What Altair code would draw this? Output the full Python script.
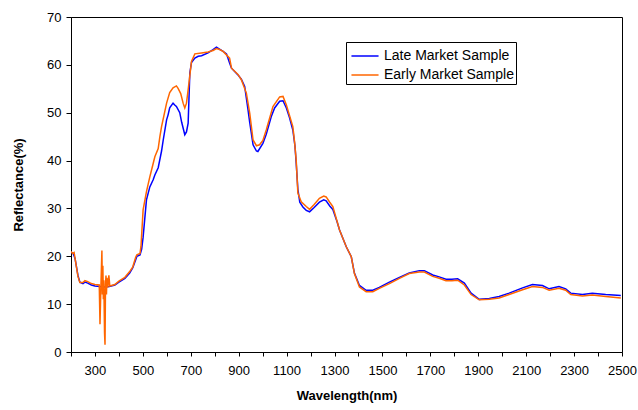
import altair as alt
import pandas as pd

# ---- data ----
late_wl = [200, 210, 217, 229, 237, 250, 258, 270, 285, 300, 320, 340, 360, 383, 400, 425, 445, 458, 470, 475,
           488, 495, 501, 515, 529, 543, 550, 564, 578, 585, 599, 605, 612, 626, 633, 640, 654, 662, 675, 682,
           689, 696, 703, 717, 731, 745, 772, 793, 807, 820, 835, 849, 862, 870, 897, 911, 925, 939, 946, 960,
           974, 980, 1001, 1015, 1036, 1050, 1071, 1085, 1099, 1112, 1126, 1135, 1140, 1147, 1155, 1168, 1182,
           1196, 1215, 1237, 1255, 1265, 1280, 1293, 1310, 1321, 1349, 1370, 1383, 1404, 1432, 1460, 1487, 1529,
           1571, 1612, 1654, 1675, 1710, 1737, 1765, 1790, 1814, 1842, 1870, 1904, 1946, 1987, 2029, 2085, 2126,
           2168, 2196, 2237, 2265, 2286, 2335, 2376, 2432, 2495]
late_val = [20.9, 20.5, 19.5, 16.0, 14.6, 14.3, 14.6, 14.4, 14.0, 13.8, 13.7, 13.6, 13.7, 14.0, 14.6, 15.4, 16.5,
            17.6, 19.3, 20.0, 20.3, 21.5, 24.0, 31.8, 34.5, 36.0, 37.0, 38.5, 42.0, 44.3, 48.5, 49.5, 51.0, 52.0,
            51.6, 51.3, 50.0, 48.0, 45.4, 46.0, 47.8, 58.3, 60.5, 61.4, 61.8, 61.9, 62.5, 63.2, 63.7, 63.3, 62.8,
            62.3, 60.4, 59.3, 57.9, 57.0, 55.5, 50.6, 48.0, 43.3, 42.0, 41.9, 43.6, 45.5, 49.2, 51.0, 52.4, 52.5,
            51.0, 49.0, 46.4, 43.0, 39.5, 34.0, 31.3, 30.3, 29.6, 29.3, 30.2, 31.3, 31.8, 31.6, 30.5, 29.8, 27.3,
            25.5, 22.0, 19.9, 16.5, 13.9, 12.9, 12.9, 13.5, 14.6, 15.6, 16.5, 17.0, 17.0, 16.1, 15.7, 15.2, 15.2,
            15.3, 14.4, 12.3, 11.0, 11.2, 11.6, 12.3, 13.4, 14.1, 13.9, 13.2, 13.7, 13.2, 12.3, 12.0, 12.3, 12.0,
            11.8]

early_wl = [200, 207, 213, 217, 229, 237, 250, 258, 270, 285, 300, 318, 321, 325, 329, 331, 333, 335, 337, 340,
            342, 344, 346, 348, 350, 354, 358, 362, 383, 400, 425, 445, 458, 470, 475, 488, 492, 501, 515, 529,
            543, 550, 564, 571, 578, 599, 612, 626, 640, 647, 658, 668, 675, 682, 689, 703, 717, 745, 772, 793,
            807, 820, 835, 862, 870, 897, 911, 932, 946, 960, 974, 987, 1001, 1015, 1043, 1071, 1085, 1099, 1126,
            1133, 1140, 1147, 1161, 1182, 1196, 1215, 1237, 1255, 1265, 1280, 1293, 1321, 1349, 1370, 1383, 1404,
            1432, 1460, 1487, 1529, 1571, 1612, 1654, 1675, 1710, 1737, 1765, 1790, 1814, 1842, 1870, 1904, 1946,
            1987, 2029, 2085, 2126, 2168, 2196, 2237, 2265, 2286, 2335, 2376, 2432, 2495]
early_val = [21.0, 20.6, 20.8, 19.5, 15.8, 14.5, 14.5, 14.9, 14.7, 14.3, 14.1, 14.0, 5.8, 14.0, 21.2, 12.0, 18.0,
             11.0, 15.0, 4.0, 1.5, 14.0, 16.0, 12.0, 15.5, 13.5, 16.0, 13.8, 14.1, 14.8, 15.6, 16.8, 17.8, 19.8,
             20.3, 20.6, 22.0, 29.7, 33.5, 36.6, 39.4, 40.8, 42.5, 45.0, 47.1, 52.0, 54.2, 55.2, 55.6, 55.1, 54.0,
             52.0, 51.0, 52.0, 54.8, 60.7, 62.3, 62.5, 62.7, 63.0, 63.4, 63.2, 62.8, 61.4, 59.3, 58.0, 56.9, 54.1,
             49.9, 44.3, 43.1, 43.3, 44.2, 46.4, 51.3, 53.3, 53.4, 51.6, 47.1, 44.0, 40.1, 33.2, 31.4, 30.4, 29.8,
             30.8, 32.1, 32.6, 32.4, 31.3, 30.4, 25.5, 22.0, 19.9, 16.4, 13.6, 12.6, 12.6, 13.3, 14.3, 15.4, 16.4,
             16.7, 16.7, 15.8, 15.4, 14.9, 14.9, 15.0, 14.0, 12.0, 10.9, 11.0, 11.3, 12.0, 13.0, 13.7, 13.5, 12.9,
             13.3, 12.9, 12.0, 11.7, 11.9, 11.6, 11.3]

series_names = ["Late Market Sample", "Early Market Sample"]
series_colors = ["#0000FF", "#FF6600"]
x_ticks = list(range(200, 2501, 100))
y_ticks = list(range(0, 71, 10))

rows = [{"wavelength": w, "reflectance": v, "series": series_names[0], "order": i}
        for i, (w, v) in enumerate(zip(late_wl, late_val))]
rows += [{"wavelength": w, "reflectance": v, "series": series_names[1], "order": i}
         for i, (w, v) in enumerate(zip(early_wl, early_val))]
df = pd.DataFrame(rows)

FONT = "Liberation Sans"

color = alt.Color(
    "series:N",
    scale=alt.Scale(domain=series_names, range=series_colors),
    legend=alt.Legend(
        title=None, orient="none", legendX=275, legendY=25,
        strokeColor="black", fillColor="white", padding=2, cornerRadius=0,
        symbolType="M-1.25,0H1.25", symbolSize=470, symbolStrokeWidth=1.5, symbolOffset=5,
        labelFont=FONT, labelFontSize=14, labelColor="black", labelOffset=7, rowPadding=0,
    ),
)

x = alt.X(
    "wavelength:Q",
    scale=alt.Scale(domain=[200, 2500], nice=False, zero=False),
    axis=alt.Axis(
        title="Wavelength(nm)", values=x_ticks,
        labelExpr="datum.value % 200 == 100 ? '' + datum.value : ''",
        tickSize=4, labelPadding=8, labelFont=FONT, labelFontSize=13, labelColor="black",
        labelOverlap=False, labelFlush=False, labelBound=False,
        titleFont=FONT, titleFontSize=13, titleFontWeight="bold", titleColor="black",
        titleY=47, titleBaseline="alphabetic",
        grid=False, domainColor="black", tickColor="black",
    ),
)
y = alt.Y(
    "reflectance:Q",
    scale=alt.Scale(domain=[0, 70], nice=False),
    axis=alt.Axis(
        title="Reflectance(%)", values=y_ticks, tickSize=5, labelPadding=5,
        labelFont=FONT, labelFontSize=13, labelColor="black",
        titleFont=FONT, titleFontSize=13, titleFontWeight="bold", titleColor="black",
        titleX=-49, titleY=167.5, titleBaseline="alphabetic", titleAlign="center",
        grid=False, domainColor="black", tickColor="black",
    ),
)

base = alt.Chart(df).mark_line(strokeWidth=1.5, clip=True).encode(
    x=x, y=y, color=color, order="order:Q"
)
late = base.transform_filter(alt.datum.series == series_names[0])
early = base.transform_filter(alt.datum.series == series_names[1])

chart = alt.layer(late, early).properties(
    width=551, height=335,
    autosize=alt.AutoSizeParams(type="none"),
    padding={"left": 71, "top": 17, "right": 16, "bottom": 58},
    background="white",
).configure_view(stroke="black", strokeWidth=1)

chart.save("out.html", embed_options={"renderer": "svg", "actions": False})
